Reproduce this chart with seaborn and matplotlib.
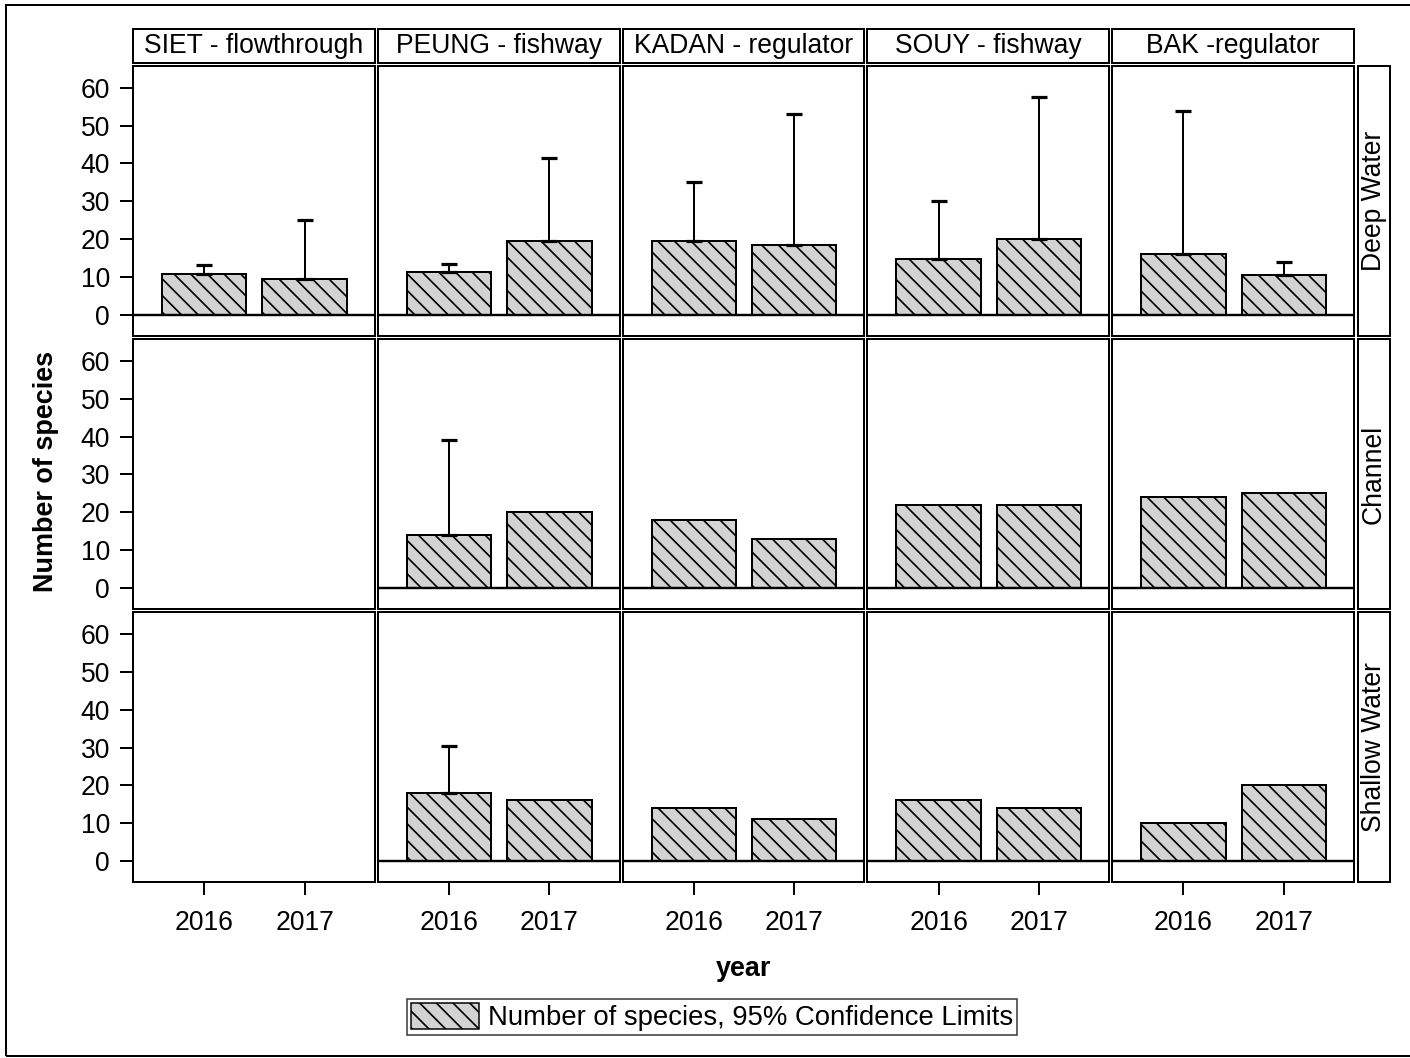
import numpy as np
import pandas as pd
import matplotlib
matplotlib.use("Agg")
import matplotlib.pyplot as plt
from matplotlib.patches import Rectangle, Patch
import seaborn as sns

# ---- data -------------------------------------------------------------
sites = ["SIET - flowthrough", "PEUNG - fishway", "KADAN - regulator",
         "SOUY - fishway", "BAK -regulator"]
habitats = ["Deep Water", "Channel", "Shallow Water"]
years = ["2016", "2017"]

# values ordered site by site, 2016 then 2017
deep_species = [10.6, 9.5, 11.2, 19.5, 19.5, 18.5, 14.6, 20.0, 16.0, 10.4]
deep_upper = [13.2, 25.1, 13.3, 41.5, 35.1, 53.0, 30.1, 57.6, 53.8, 13.9]

channel_species = [np.nan, np.nan, 14, 20, 18, 13, 22, 22, 24, 25]
channel_upper = [np.nan, np.nan, 39.2, np.nan, np.nan, np.nan,
                 np.nan, np.nan, np.nan, np.nan]

shallow_species = [np.nan, np.nan, 18, 16, 14, 11, 16, 14, 10, 20]
shallow_upper = [np.nan, np.nan, 30.5, np.nan, np.nan, np.nan,
                 np.nan, np.nan, np.nan, np.nan]

y_ticks = [0, 10, 20, 30, 40, 50, 60]

rows = []
for hab, vals, ups in zip(habitats,
                          [deep_species, channel_species, shallow_species],
                          [deep_upper, channel_upper, shallow_upper]):
    k = 0
    for site in sites:
        for yr in years:
            rows.append(dict(habitat=hab, site=site, year=yr,
                             species=vals[k], upper=ups[k]))
            k += 1
df = pd.DataFrame(rows)

# ---- style ------------------------------------------------------------
W, H, DPI = 1410, 1058, 100


def px(v):
    """pixels -> points at the output resolution"""
    return v * 72.0 / DPI


sns.set_style("ticks")
plt.rcParams["font.family"] = ["Liberation Sans", "DejaVu Sans"]
plt.rcParams["text.color"] = "black"
plt.rcParams["axes.labelcolor"] = "black"
plt.rcParams["xtick.color"] = "black"
plt.rcParams["ytick.color"] = "black"
plt.rcParams["hatch.linewidth"] = px(1.7)
plt.rcParams["hatch.color"] = "black"

FS = px(26.5)
FS_BOLD = px(27)
LW = px(2.0)
HATCH = "\\\\"
FILL = "#d3d3d3"

g = sns.catplot(
    data=df, x="year", y="species", row="habitat", col="site",
    kind="bar", order=years, row_order=habitats, col_order=sites,
    errorbar=None, color=FILL, saturation=1, width=0.84,
    edgecolor="black", linewidth=LW, hatch=HATCH,
    height=269.7 / DPI, aspect=241.8 / 269.7,
    sharex=True, sharey=True, facet_kws=dict(despine=False),
)
fig = g.figure
fig.set_size_inches(W / DPI, H / DPI)
fig.subplots_adjust(left=133 / W, right=1354 / W,
                    top=1 - 66 / H, bottom=1 - 882 / H,
                    wspace=0.0124, hspace=0.013)

# ---- panels -----------------------------------------------------------
for (hab, site), ax in g.axes_dict.items():
    r = habitats.index(hab)
    c = sites.index(site)
    ax.set_title("")
    ax.set_xlabel("")
    ax.set_ylabel("")
    ax.set_xlim(-0.71, 1.70)
    ax.set_ylim(-5.6, 65.8)
    ax.set_yticks(y_ticks)
    for sp in ax.spines.values():
        sp.set_visible(True)
        sp.set_linewidth(LW)
        sp.set_color("black")
    sub = df[(df.habitat == hab) & (df.site == site)]
    if sub.species.notna().any():
        ax.axhline(0, color="black", lw=px(2.4), zorder=1)
    for _, row in sub.iterrows():
        if pd.notna(row.upper):
            xi = years.index(row.year)
            ax.errorbar(xi, row.species, yerr=[[0], [row.upper - row.species]],
                        fmt="none", ecolor="black", elinewidth=px(2.0),
                        capsize=px(8), capthick=px(3.2), zorder=3)
    ax.tick_params(axis="y", which="both", left=(c == 0), right=False,
                   labelleft=(c == 0), length=px(13), width=LW, pad=px(10),
                   labelsize=FS, color="black", labelcolor="black")
    ax.tick_params(axis="x", which="both", bottom=(r == 2), top=False,
                   labelbottom=(r == 2), length=px(13), width=LW,
                   pad=px(15), labelsize=FS, color="black",
                   labelcolor="black")

# ---- strips -----------------------------------------------------------
for c, site in enumerate(sites):
    pos = g.axes[0, c].get_position()
    y0, y1 = 1 - 63 / H, 1 - 29 / H
    fig.add_artist(Rectangle((pos.x0, y0), pos.x1 - pos.x0, y1 - y0,
                             transform=fig.transFigure, facecolor="white",
                             edgecolor="black", lw=LW))
    fig.text((pos.x0 + pos.x1) / 2, (y0 + y1) / 2, site, ha="center",
             va="center", fontsize=FS, color="black")

for r, hab in enumerate(habitats):
    pos = g.axes[r, -1].get_position()
    x0, x1 = 1358 / W, 1390 / W
    fig.add_artist(Rectangle((x0, pos.y0), x1 - x0, pos.y1 - pos.y0,
                             transform=fig.transFigure, facecolor="white",
                             edgecolor="black", lw=LW))
    fig.text((x0 + x1) / 2, (pos.y0 + pos.y1) / 2, hab, ha="center",
             va="center", rotation=90, fontsize=FS, color="black")

# ---- axis titles, legend, frame ---------------------------------------
fig.text(46 / W, 1 - 471 / H, "Number of species", rotation=90,
         ha="center", va="center", fontsize=FS_BOLD, fontweight="bold",
         color="black")
fig.text(744 / W, 1 - 969 / H, "year", ha="center", va="center",
         fontsize=FS_BOLD, fontweight="bold", color="black")

FS_LEG = px(27.5)
handle = Patch(facecolor=FILL, edgecolor="black", hatch=HATCH, lw=px(1.5))
leg = fig.legend([handle], ["Number of species, 95% Confidence Limits"],
                 loc="center", bbox_to_anchor=(712 / W, 1 - 1017 / H),
                 fontsize=FS_LEG, frameon=True, fancybox=False,
                 borderpad=0.15, handlelength=68 / 27.5,
                 handleheight=30 / 27.5, handletextpad=0.3, borderaxespad=0)
leg.get_frame().set_edgecolor("black")
leg.get_frame().set_linewidth(px(1.5))
for t in leg.get_texts():
    t.set_color("black")

fig.add_artist(Rectangle((6 / W, 1 - 1056 / H), 1420 / W, 1051 / H,
                         transform=fig.transFigure, fill=False,
                         edgecolor="black", lw=LW))

fig.savefig("out.png", dpi=DPI)
